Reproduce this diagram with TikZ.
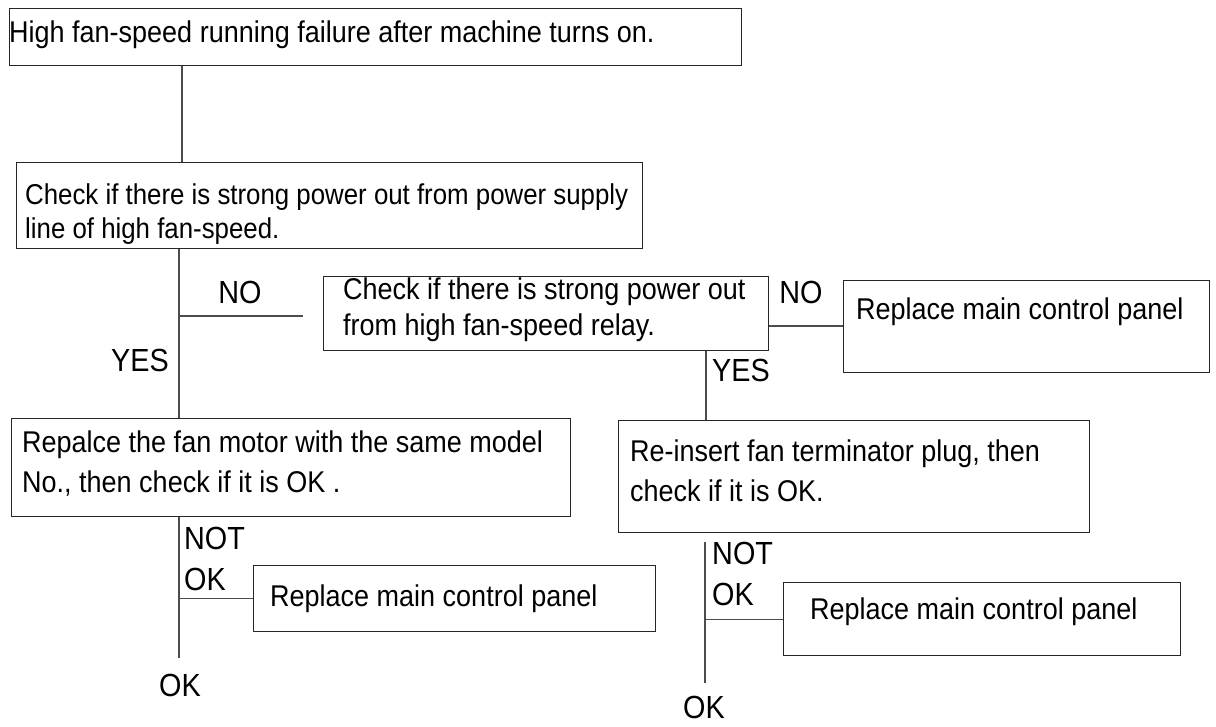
\documentclass[tikz,border=0pt]{standalone}
\usepackage{fontspec}
\setmainfont{Liberation Sans}[FakeStretch=0.9]
\usepackage{tikz}
\usetikzlibrary{calc}

\begin{document}
\begin{tikzpicture}[x=1pt,y=-1pt,
	box/.style={rectangle,draw=black!85,line width=1.2pt,anchor=north west,inner sep=0pt},
	txt/.style={anchor=north west,inner sep=0pt,align=left,font=\fontsize{30}{40}\selectfont},
	lbl/.style={inner sep=0pt,align=left,font=\fontsize{32}{41}\selectfont},
	link/.style={draw=black!70,line width=1.2pt}]
			\useasboundingbox (0,0) rectangle (1216,726);
			%boxes
			\node [box,minimum width=732pt,minimum height=57pt] (top) at (9,8) {};
			\node [box,minimum width=626pt,minimum height=86pt] (chk1) at (16,162) {};
			\node [box,minimum width=445pt,minimum height=74pt] (chk2) at (323,276) {};
			\node [box,minimum width=366pt,minimum height=92pt] (repl1) at (843,280) {};
			\node [box,minimum width=559pt,minimum height=98pt] (motor) at (11,418) {};
			\node [box,minimum width=471pt,minimum height=112pt] (plug) at (618,420) {};
			\node [box,minimum width=402pt,minimum height=66pt] (repl2) at (253,565) {};
			\node [box,minimum width=397pt,minimum height=73pt] (repl3) at (783,582) {};

			%texts in the boxes
			\node [txt] (toptxt) at ($(top.north west)+(0,13)$) {High fan-speed running failure after machine turns on.};
			\node [txt,font=\fontsize{28.7}{34}\selectfont] (chk1txt) at ($(chk1.north west)+(9,21)$) {Check if there is strong power out from power supply\\line of high fan-speed.};
			\node [txt,font=\fontsize{30}{36}\selectfont] (chk2txt) at ($(chk2.north west)+(20,2)$) {Check if there is strong power out\\from high fan-speed relay.};
			\node [txt] (repl1txt) at ($(repl1.north west)+(13,18)$) {Replace main control panel};
			\node [txt] (motortxt) at ($(motor.north west)+(11,13)$) {Repalce the fan motor with the same model\\No., then check if it is OK .};
			\node [txt] (plugtxt) at ($(plug.north west)+(12,20)$) {Re-insert fan terminator plug, then\\check if it is OK.};
			\node [txt] (repl2txt) at ($(repl2.north west)+(17,20)$) {Replace main control panel};
			\node [txt] (repl3txt) at ($(repl3.north west)+(27,16)$) {Replace main control panel};

			%connectors
			\coordinate (s1) at (182,0);
			\coordinate (s2) at (179,0);
			\coordinate (s3) at (0,326);
			\coordinate (s4) at (706,0);
			\coordinate (noend) at (303,316);
			\coordinate (okend1) at (179,658);
			\coordinate (ok2top) at (705,542);
			\coordinate (okend2) at (705,683);
			\draw [link] (top.south -| s1) -- (chk1.north -| s1);
			\draw [link] (chk1.south -| s2) -- (motor.north -| s2);
			\draw [link] (noend -| s2) -- (noend);
			\draw [link] (chk2.east |- s3) -- (repl1.west |- s3);
			\draw [link] (chk2.south -| s4) -- (plug.north -| s4);
			\draw [link] (motor.south -| okend1) -- (okend1);
			\draw [link] (repl2.west -| okend1) -- (repl2.west);
			\draw [link] (ok2top) -- (okend2);
			\draw [link] (repl3.west -| ok2top) -- (repl3.west);

			%labels
			\node [lbl] (no1) at (240,292) {NO};
			\node [lbl] (yes1) at (140,360) {YES};
			\node [lbl] (no2) at (801,292) {NO};
			\node [lbl] (yes2) at (741,370) {YES};
			\node [lbl,anchor=north west] (notok1) at (184,527) {NOT\\OK};
			\node [lbl,anchor=north west] (notok2) at (712,542) {NOT\\OK};
			\node [lbl] (ok1) at (180,685) {OK};
			\node [lbl] (ok2) at (704,707) {OK};
\end{tikzpicture}
\end{document}
